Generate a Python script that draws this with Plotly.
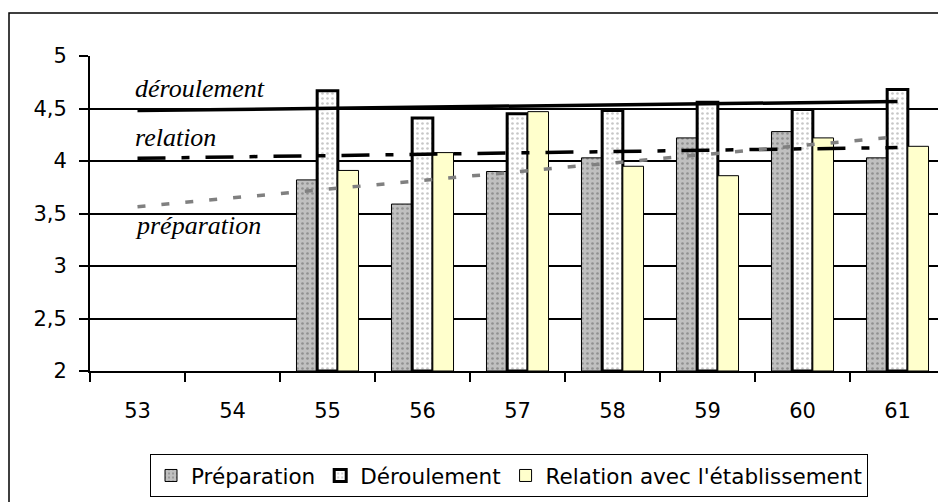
import numpy as np
import plotly.graph_objects as go

categories = ["53", "54", "55", "56", "57", "58", "59", "60", "61"]
preparation = [None, None, 3.82, 3.59, 3.90, 4.03, 4.22, 4.28, 4.03]
deroulement = [None, None, 4.67, 4.41, 4.45, 4.48, 4.56, 4.49, 4.68]
relation = [None, None, 3.91, 4.08, 4.47, 3.95, 3.86, 4.22, 4.14]
series_names = ["Préparation", "Déroulement", "Relation avec l'établissement"]
trend_labels = ["déroulement", "relation", "préparation"]

OFF = 8  # page body margin
W, H = 946 - OFF, 502 - OFF
L, R, T, B = 90 - OFF, 945 - OFF, 56 - OFF, 371 - OFF


def px_x(p):  # reference page pixel -> paper
    return (p - OFF - L) / (R - L)


def px_y(p):
    return (B - (p - OFF)) / (B - T)


def linear_trend(values):
    idx = np.array([i for i, v in enumerate(values) if v is not None], float)
    vals = np.array([v for v in values if v is not None], float)
    slope, intercept = np.polyfit(idx, vals, 1)
    xs = np.array([0, len(categories) - 1], float)
    return [categories[0], categories[-1]], list(intercept + slope * xs)


fig = go.Figure()

fig.add_trace(go.Bar(
    x=categories, y=[v - 2 if v is not None else None for v in preparation], base=2,
    name=series_names[0],
    marker=dict(color="#C0C0C0", line=dict(color="black", width=1),
                pattern=dict(shape=".", fgcolor="#606060", bgcolor="#C0C0C0",
                             size=5, solidity=0.22)),
))
fig.add_trace(go.Bar(
    x=categories, y=[v - 2 if v is not None else None for v in deroulement], base=2,
    name=series_names[1],
    marker=dict(color="white", line=dict(color="black", width=3),
                pattern=dict(shape=".", fgcolor="#909090", bgcolor="white",
                             size=5, solidity=0.22)),
))
fig.add_trace(go.Bar(
    x=categories, y=[v - 2 if v is not None else None for v in relation], base=2,
    name=series_names[2],
    marker=dict(color="#FFFFCC", line=dict(color="black", width=1)),
))

tx, ty = linear_trend(deroulement)
fig.add_trace(go.Scatter(x=tx, y=ty, mode="lines", showlegend=False,
                         line=dict(color="black", width=3.5)))
tx, ty = linear_trend(relation)
fig.add_trace(go.Scatter(x=tx, y=ty, mode="lines", showlegend=False,
                         line=dict(color="black", width=3.5, dash="28px,16px,8px,16px")))
tx, ty = linear_trend(preparation)
fig.add_trace(go.Scatter(x=tx, y=ty, mode="lines", showlegend=False,
                         line=dict(color="#808080", width=3.5, dash="8px,16px")))

serif = dict(family="Liberation Serif, Times New Roman, serif", size=26, color="black")
for text, base_px in zip(trend_labels, [96, 145, 233]):
    fig.add_annotation(x=px_x(135), y=px_y(base_px - 8), xref="paper", yref="paper",
                       text="<i>%s</i>" % text, showarrow=False, xanchor="left",
                       yanchor="middle", font=serif, xshift=-2)

# outer chart border (right/bottom edges fall outside the picture)
fig.add_shape(type="rect", xref="paper", yref="paper",
              x0=px_x(9), y0=px_y(13), x1=px_x(960), y1=px_y(520),
              line=dict(color="black", width=1.5), fillcolor="rgba(0,0,0,0)",
              layer="below")

sans = "DejaVu Sans, Verdana, sans-serif"
fig.update_layout(
    width=W, height=H,
    margin=dict(l=L, r=W - R, t=T, b=H - B, autoexpand=False),
    paper_bgcolor="white", plot_bgcolor="white",
    separators=",.",
    barmode="group", bargap=0.347, bargroupgap=0,
    font=dict(family=sans, size=21, color="black"),
    legend=dict(orientation="h", x=px_x(150), y=px_y(454), xanchor="left", yanchor="top",
                bordercolor="black", borderwidth=1, bgcolor="white",
                font=dict(family=sans, size=21.5), itemwidth=30, traceorder="normal",
                tracegroupgap=0),
    xaxis=dict(type="category", categoryorder="array", categoryarray=categories,
               showline=True, linecolor="black", linewidth=2, mirror=False,
               ticks="outside", ticklen=9, tickwidth=1.5, tickcolor="black",
               tickson="boundaries", showgrid=False, ticklabelstandoff=20,
               range=[-0.5, 8.5], fixedrange=True),
    yaxis=dict(range=[2, 5], dtick=0.5, tick0=2, showline=True, linecolor="black",
               linewidth=2, ticks="outside", ticklen=9, tickwidth=1.5, tickcolor="black",
               showgrid=True, gridcolor="black", gridwidth=1.5, zeroline=False,
               ticklabelstandoff=8, tickformat=",.1~f"),
)

fig.write_html("out.html")
